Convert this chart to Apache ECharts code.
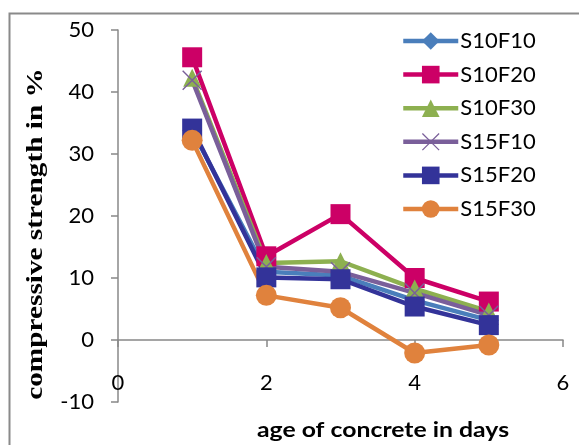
<!DOCTYPE html>
<html>
<head>
<meta charset="utf-8">
<script src="https://cdn.jsdelivr.net/npm/echarts@6/dist/echarts.min.js"></script>
<style>
html,body{margin:0;padding:0;background:#fff;}
#chart{width:579px;height:445px;}
</style>
</head>
<body>
<div id="chart"></div>
<script>
var days = [1, 2, 3, 4, 5];
var seriesNames = ['S10F10', 'S10F20', 'S10F30', 'S15F10', 'S15F20', 'S15F30'];
var S10F10 = [33.8, 11.0, 10.4, 6.4, 3.2];
var S10F20 = [45.6, 13.5, 20.3, 10.0, 6.2];
var S10F30 = [42.3, 12.4, 12.7, 8.3, 4.6];
var S15F10 = [41.9, 11.8, 11.0, 7.6, 4.0];
var S15F20 = [34.1, 10.1, 9.8, 5.4, 2.4];
var S15F30 = [32.2, 7.2, 5.2, -2.1, -0.8];
var xTicks = [0, 2, 4, 6];
var yTicks = [-10, 0, 10, 20, 30, 40, 50];

var values = [S10F10, S10F20, S10F30, S15F10, S15F20, S15F30];
var colors = ['#4A7EBB', '#CC0066', '#8DB050', '#7A5F9A', '#333399', '#E0823D'];
var symbols = ['diamond', 'rect', 'triangle',
  'path://M0,1L1,0L20,19L19,20Z M19,0L20,1L1,20L0,19Z', 'rect', 'circle'];
var sizes = [20, 20, 18, 20, 20, 21];

var series = seriesNames.map(function (n, i) {
  return {
    name: n,
    type: 'line',
    data: days.map(function (d, j) { return [d, values[i][j]]; }),
    symbol: symbols[i],
    symbolSize: sizes[i],
    showAllSymbol: true,
    lineStyle: { color: colors[i], width: 4.5 },
    itemStyle: { color: colors[i] },
    emphasis: { disabled: true },
    animation: false
  };
});

var chart = echarts.init(document.getElementById('chart'));
chart.setOption({
  animation: false,
  backgroundColor: '#fff',
  grid: { left: 118, right: 16, top: 30, bottom: 43, containLabel: false, outerBoundsMode: 'none' },
  xAxis: {
    type: 'value', min: xTicks[0], max: xTicks[xTicks.length - 1], interval: 2,
    splitLine: { show: false },
    axisLine: { show: true, onZero: true, lineStyle: { color: '#888', width: 1.5 } },
    axisTick: { show: true, length: 7, lineStyle: { color: '#888', width: 1.5 } },
    axisLabel: { margin: -30, color: '#000', fontFamily: 'Lato', fontSize: 22 }
  },
  yAxis: {
    type: 'value', min: yTicks[0], max: yTicks[yTicks.length - 1], interval: 10,
    splitLine: { show: false },
    axisLine: { show: true, onZero: false, lineStyle: { color: '#888', width: 1.5 } },
    axisTick: { show: true, length: 7, lineStyle: { color: '#888', width: 1.5 } },
    axisLabel: { margin: 24, color: '#000', fontFamily: 'Lato', fontSize: 22 }
  },
  legend: {
    orient: 'vertical', left: 401, top: 30, padding: 0,
    itemWidth: 55, itemHeight: 22, itemGap: 11.6,
    lineStyle: { width: 4.5 },
    textStyle: { fontFamily: 'Lato', fontSize: 22, color: '#000', lineHeight: 22, padding: [0, 0, 0, -3] },
    data: seriesNames
  },
  graphic: [
    { type: 'rect', left: 7, top: 11, shape: { x: 0, y: 0, width: 620, height: 500 },
      style: { fill: 'none', stroke: '#8a8a8a', lineWidth: 2 }, silent: true },
    { type: 'text', x: 36, y: 234, rotation: Math.PI / 2, scaleX: 1.22,
      style: { text: 'compressive strength in %', font: 'bold 24px "Liberation Serif"', fill: '#000',
        textAlign: 'center', textVerticalAlign: 'middle' } },
    { type: 'text', x: 383, y: 430, scaleX: 1.18,
      style: { text: 'age of concrete in days', font: 'bold 21px Lato', fill: '#000',
        textAlign: 'center', textVerticalAlign: 'middle' } }
  ],
  series: series
});
</script>
</body>
</html>
